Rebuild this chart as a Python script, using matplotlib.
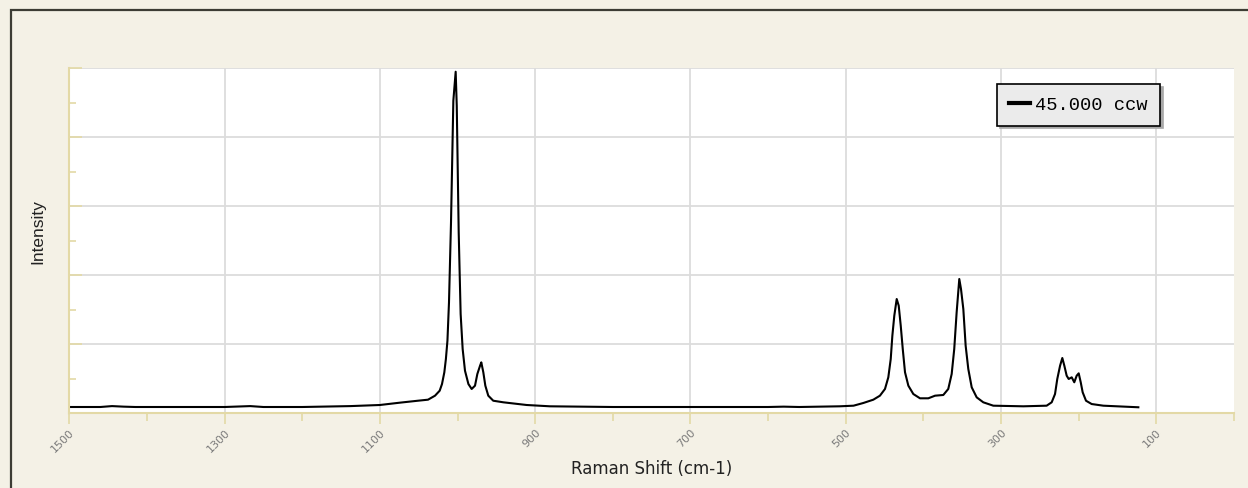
import matplotlib
matplotlib.use("Agg")
import matplotlib.pyplot as plt
from matplotlib.patches import Rectangle
from matplotlib.ticker import MultipleLocator, NullFormatter

# Raman shift (cm-1) and intensity (arbitrary units)
shift = [1500, 1460, 1445, 1430, 1415, 1380, 1300, 1267, 1250, 1200, 1138, 1100,
         1074, 1051, 1038, 1029, 1023, 1020, 1017, 1015, 1013, 1011, 1008.4,
         1005.4, 1002.4, 1001, 998.5, 996, 993.4, 990.4, 986, 981.8, 977.5,
         974.5, 971, 969.4, 966.8, 964.2, 960.4, 954, 941, 911, 881, 800, 700,
         600, 580, 560, 508, 490, 477.4, 464.5, 456, 449.5, 445.2, 442.1, 440,
         437.5, 434.4, 431.8, 429.2, 426.6, 423.7, 419.4, 413, 404.4, 393.7,
         385, 374.4, 368, 363.6, 360.3, 357.2, 353.8, 351.6, 348.6, 345.6,
         342.2, 337.8, 331.4, 322.9, 310, 271.3, 241.3, 234.8, 230.5, 227.6,
         224, 221.1, 218.5, 215.5, 212.9, 209, 205.7, 202.6, 200, 197.4, 194.9,
         190.6, 183.3, 168.3, 123.2]
intensity = [87, 87, 100, 92, 87, 87, 87, 100, 87, 87, 100, 116,
             150, 178, 193, 251, 323, 420, 590, 782, 1048, 1604, 2763,
             4525, 4946, 4453, 2618, 1435, 927, 613, 420, 348, 396,
             565, 685, 734, 590, 396, 251, 178, 155, 116, 97, 87, 87,
             87, 92, 87, 97, 106, 145, 193, 251, 348, 517, 782, 1120,
             1410, 1652, 1555, 1265, 927, 590, 396, 275, 213, 213,
             251, 261, 348, 565, 927, 1459, 1942, 1797, 1507, 975,
             638, 372, 227, 155, 106, 97, 106, 155, 275, 493,
             685, 797, 685, 541, 493, 517, 445, 541, 575, 445, 300,
             178, 130, 106, 83]

legend_label = "45.000 ccw"
x_major_ticks = [1500, 1300, 1100, 900, 700, 500, 300, 100]

W, H = 1248, 489
bg = "#F4F1E6"
axis_col = "#E3D9A6"
grid_col = "#DCDCDC"

fig = plt.figure(figsize=(W / 100, H / 100), dpi=100, facecolor=bg)
ax = fig.add_axes([69.3 / W, 1 - 414 / H, (1234 - 69.3) / W, (414 - 69) / H])
ax.set_facecolor("white")

line, = ax.plot(shift, intensity, color="black", lw=1.5, label=legend_label)

ax.set_xlim(1500, 0)
ax.set_ylim(0, 5000)

ax.set_xticks(x_major_ticks)
ax.set_xticklabels([str(t) for t in x_major_ticks])
ax.xaxis.set_minor_locator(MultipleLocator(100))
ax.yaxis.set_major_locator(MultipleLocator(1000))
ax.yaxis.set_minor_locator(MultipleLocator(500))
ax.yaxis.set_major_formatter(NullFormatter())

ax.grid(True, which="major", color=grid_col, lw=1.3)
ax.set_axisbelow(True)

for s in ["top", "right"]:
    ax.spines[s].set_visible(False)
for s in ["left", "bottom"]:
    ax.spines[s].set_color(axis_col)
    ax.spines[s].set_linewidth(1.5)

ax.tick_params(axis="x", which="major", direction="out", length=8, width=1.2,
               color=axis_col, labelsize=8, labelcolor="#7A7A7A", pad=2)
ax.tick_params(axis="x", which="minor", direction="out", length=6, width=1.2,
               color=axis_col)
ax.tick_params(axis="y", which="major", direction="in", length=9, width=1.2,
               color=axis_col)
ax.tick_params(axis="y", which="minor", direction="in", length=5, width=1.2,
               color=axis_col)
for lab in ax.get_xticklabels():
    lab.set_rotation(45)
    lab.set_ha("right")
    lab.set_va("top")
    lab.set_rotation_mode("anchor")

ax.set_xlabel("Raman Shift (cm-1)", fontsize=12, color="#222222", labelpad=4,
              family="DejaVu Sans")
fig.text(38 / W, 1 - 232 / H, "Intensity", rotation=90, ha="center", va="center",
         fontsize=12.5, color="#222222", family="Liberation Sans")

leg = ax.legend(loc="upper right", bbox_to_anchor=((1160 - 69.3) / (1234 - 69.3),
                (414 - 85) / 345), borderaxespad=0, frameon=True, fancybox=False,
                shadow={"color": "#A8A8A8", "alpha": 1},
                prop={"family": "Liberation Mono", "size": 13.5},
                handlelength=1.1, handletextpad=0.3, borderpad=0.65)
leg.get_frame().set_facecolor("#EBEBEB")
leg.get_frame().set_edgecolor("black")
leg.get_frame().set_linewidth(1.2)
leg.get_frame().set_alpha(1)
for h in leg.legend_handles:
    h.set_linewidth(3)

# outer dark frame line (left and top)
fig.patches.append(Rectangle((11 / W, -0.5), 2, 1.5 - 11 / H, transform=fig.transFigure,
                             fill=False, edgecolor="#3C3C34", lw=1.6))

fig.savefig("out.png", dpi=100, facecolor=bg)
